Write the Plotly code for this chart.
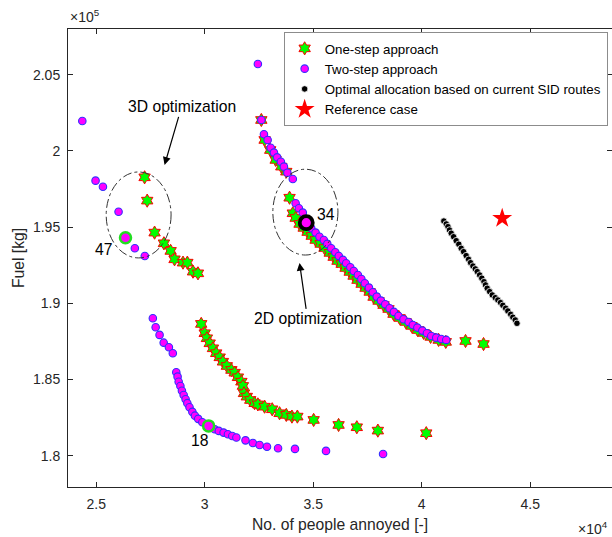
import plotly.graph_objects as go

# ---- data (x in units of 1e4 people, y in units of 1e5 kg) ----
one_step_x = [2.723, 2.735, 2.769, 2.812, 2.843, 2.861, 2.900, 2.920, 2.946, 2.969,
              3.261, 3.276, 3.302, 3.327, 3.353, 3.376, 3.391, 3.406,
              3.419, 3.437, 3.456, 3.474, 3.493, 3.511, 3.534, 3.552, 3.576, 3.594,
              3.612, 3.631, 3.649, 3.668, 3.686, 3.704, 3.723, 3.741, 3.760, 3.778,
              3.801, 3.824, 3.847, 3.870, 3.898, 3.926, 3.953, 3.981, 4.009, 4.041,
              4.078, 4.111, 4.202, 4.285,
              2.984, 3.000, 3.010, 3.023, 3.038, 3.053, 3.069, 3.084, 3.102, 3.123,
              3.138, 3.153, 3.169, 3.176, 3.181, 3.194, 3.210, 3.230, 3.245, 3.276,
              3.311, 3.345, 3.376, 3.402, 3.427, 3.502, 3.617, 3.701, 3.798, 4.021]
one_step_y = [1.9827, 1.9674, 1.9464, 1.9394, 1.9344, 1.9289, 1.9267, 1.9267, 1.9208, 1.9197,
              2.0203, 2.0072, 2.0006, 1.9941, 1.9897, 1.9864, 1.9693, 1.9591,
              1.9560, 1.9521, 1.9495, 1.9468, 1.9442, 1.9416, 1.9390, 1.9363, 1.9331, 1.9304,
              1.9278, 1.9258, 1.9232, 1.9206, 1.9180, 1.9153, 1.9127, 1.9101, 1.9075, 1.9042,
              1.9016, 1.8989, 1.8963, 1.8930, 1.8904, 1.8878, 1.8852, 1.8825, 1.8806, 1.8780,
              1.8760, 1.8747, 1.8753, 1.8733,
              1.8865, 1.8804, 1.8771, 1.8738, 1.8705, 1.8673, 1.8646, 1.8617, 1.8589, 1.8563,
              1.8545, 1.8515, 1.8486, 1.8458, 1.8410, 1.8388, 1.8366, 1.8345, 1.8337, 1.8322,
              1.8305, 1.8279, 1.8268, 1.8257, 1.8257, 1.8235, 1.8202, 1.8187, 1.8165, 1.8148]

two_step_x = [2.436, 2.497, 2.531, 2.603, 2.635, 2.678, 2.724,
              3.245, 3.261, 3.273, 3.290, 3.304, 3.319, 3.334, 3.351, 3.365, 3.381, 3.406,
              3.419, 3.434, 3.452, 3.468,
              3.491, 3.511, 3.529, 3.549, 3.565, 3.583, 3.602, 3.618, 3.637, 3.652,
              3.671, 3.687, 3.706, 3.722, 3.738, 3.757, 3.775, 3.793, 3.812, 3.832,
              3.852, 3.872, 3.893, 3.916, 3.940, 3.959, 3.980, 4.003, 4.024, 4.044,
              4.067, 4.090, 4.113,
              2.761, 2.774, 2.792, 2.811, 2.835, 2.853, 2.869, 2.875, 2.880, 2.888,
              2.895, 2.903, 2.912, 2.920, 2.930, 2.943, 2.955, 2.970, 2.989, 3.018,
              3.046, 3.065, 3.087, 3.107, 3.127, 3.146, 3.188, 3.222, 3.253, 3.287,
              3.338, 3.416, 3.559, 3.822]
two_step_y = [2.0196, 1.9805, 1.9765, 1.9601, 1.9431, 1.9361, 1.9311,
              2.0570, 2.0203, 2.0109, 2.0072, 2.0021, 1.9989, 1.9958, 1.9929, 1.9897, 1.9857, 1.9816,
              1.9657, 1.9624, 1.9595, 1.9529,
              1.9493, 1.9464, 1.9437, 1.9416, 1.9390, 1.9361, 1.9335, 1.9311, 1.9285, 1.9263,
              1.9237, 1.9212, 1.9186, 1.9160, 1.9132, 1.9103, 1.9073, 1.9044, 1.9018, 1.8994,
              1.8968, 1.8944, 1.8917, 1.8896, 1.8878, 1.8858, 1.8841, 1.8821, 1.8804, 1.8786,
              1.8775, 1.8766, 1.8760,
              1.8902, 1.8843, 1.8793, 1.8742, 1.8712, 1.8673, 1.8548, 1.8519, 1.8486, 1.8458,
              1.8427, 1.8399, 1.8371, 1.8345, 1.8318, 1.8288, 1.8263, 1.8242, 1.8220, 1.8196,
              1.8174, 1.8163, 1.8152, 1.8141, 1.8130, 1.8120, 1.8101, 1.8084, 1.8071, 1.8059,
              1.8049, 1.8045, 1.8032, 1.8012]

optimal_x = [4.102, 4.113, 4.121, 4.128, 4.136, 4.147, 4.159, 4.171, 4.182, 4.193,
             4.205, 4.216, 4.225, 4.236, 4.247, 4.256, 4.267, 4.277, 4.287, 4.294,
             4.302, 4.313, 4.325, 4.339, 4.351, 4.363, 4.374, 4.387, 4.397, 4.410,
             4.420, 4.431, 4.439]
optimal_y = [1.9540, 1.9521, 1.9503, 1.9481, 1.9460, 1.9437, 1.9411, 1.9388, 1.9361, 1.9339,
             1.9313, 1.9289, 1.9267, 1.9245, 1.9226, 1.9208, 1.9186, 1.9165, 1.9142, 1.9121,
             1.9099, 1.9077, 1.9055, 1.9037, 1.9022, 1.9005, 1.8987, 1.8968, 1.8950, 1.8928,
             1.8909, 1.8891, 1.8869]

reference_x = [4.371]
reference_y = [1.9558]

# highlighted solutions
green_ids = ["47", "18"]
green_x = [2.635, 3.018]
green_y = [1.9431, 1.8196]
black_ids = ["34"]
black_x = [3.468]
black_y = [1.9529]

x_ticks = [2.5, 3, 3.5, 4, 4.5]
x_tick_text = ["2.5", "3", "3.5", "4", "4.5"]
y_ticks = [1.8, 1.85, 1.9, 1.95, 2.0, 2.05]
y_tick_text = ["1.8", "1.85", "1.9", "1.95", "2", "2.05"]

FONT = "Liberation Sans, Arial, sans-serif"
TXT = "#262626"

fig = go.Figure()
fig.add_trace(go.Scatter(
    x=one_step_x, y=one_step_y, mode="markers", name="One-step approach",
    marker=dict(symbol="hexagram", size=10, color="#00ff00",
                line=dict(color="#ff0000", width=1))))
fig.add_trace(go.Scatter(
    x=two_step_x, y=two_step_y, mode="markers", name="Two-step approach",
    marker=dict(symbol="circle", size=7.5, color="#ff00ff",
                line=dict(color="#3030ff", width=1.1))))
fig.add_trace(go.Scatter(
    x=optimal_x, y=optimal_y, mode="markers",
    name="Optimal allocation based on current SID routes",
    marker=dict(symbol="circle", size=6.5, color="#000000",
                line=dict(color="#ffffff", width=0.8))))
fig.add_trace(go.Scatter(
    x=reference_x, y=reference_y, mode="markers", name="Reference case",
    marker=dict(symbol="star", size=15, color="#ff0000",
                line=dict(color="#ff0000", width=0))))
fig.add_trace(go.Scatter(
    x=green_x, y=green_y, mode="markers", showlegend=False, hoverinfo="skip",
    marker=dict(symbol="circle", size=11, color="#ff00ff",
                line=dict(color="#22dd22", width=2.5))))
fig.add_trace(go.Scatter(
    x=black_x, y=black_y, mode="markers", showlegend=False, hoverinfo="skip",
    marker=dict(symbol="circle", size=13, color="#ff00ff",
                line=dict(color="#000000", width=3.8))))

# ellipses around the optimization groups
fig.add_shape(type="circle", xref="x", yref="y", x0=2.546, x1=2.845, y0=1.9298, y1=1.9862,
              line=dict(color="#333333", width=1, dash="dashdot"))
fig.add_shape(type="circle", xref="x", yref="y", x0=3.314, x1=3.614, y0=1.9317, y1=1.9880,
              line=dict(color="#333333", width=1, dash="dashdot"))

ann_font = dict(family=FONT, size=15.7, color="#000000")
fig.add_annotation(x=2.815, y=1.9908, xref="x", yref="y", text="3D optimization",
                   ax=17, ay=-58, axref="pixel", ayref="pixel", showarrow=True,
                   arrowhead=2, arrowsize=1.3, arrowwidth=1.2, arrowcolor="#000000",
                   font=ann_font)
fig.add_annotation(x=3.437, y=1.9265, xref="x", yref="y", text="2D optimization",
                   ax=8, ay=56, axref="pixel", ayref="pixel", showarrow=True,
                   arrowhead=2, arrowsize=1.3, arrowwidth=1.2, arrowcolor="#000000",
                   font=ann_font)
label_offsets = {"47": (-22, 12), "18": (-9, 15), "34": (20, -8)}
for ids, xs, ys in ((green_ids, green_x, green_y), (black_ids, black_x, black_y)):
    for i, xv, yv in zip(ids, xs, ys):
        dx, dy = label_offsets[i]
        fig.add_annotation(x=xv, y=yv, xref="x", yref="y", text=i, showarrow=False,
                           xshift=dx, yshift=-dy, font=ann_font)

# axis exponent labels
fig.add_annotation(x=0.0, y=1.0, xref="paper", yref="paper", xanchor="left", yanchor="bottom",
                   text="\u00d710<sup>5</sup>", showarrow=False, yshift=2,
                   font=dict(family=FONT, size=14, color=TXT))
fig.add_annotation(x=1.0, y=0.0, xref="paper", yref="paper", xanchor="right", yanchor="top",
                   text="\u00d710<sup>4</sup>", showarrow=False, yshift=-30, xshift=-2,
                   font=dict(family=FONT, size=14, color=TXT))

axis_common = dict(showgrid=False, zeroline=False, showline=True, linecolor=TXT, linewidth=1,
                   mirror="ticks", ticks="inside", ticklen=5, tickcolor=TXT, tickwidth=1,
                   tickfont=dict(family=FONT, size=14, color=TXT))
fig.update_xaxes(range=[2.37, 4.877], tickvals=x_ticks, ticktext=x_tick_text,
                 title=dict(text="No. of people annoyed [-]", standoff=8,
                            font=dict(family=FONT, size=15.7, color=TXT)),
                 ticklabelstandoff=4, **axis_common)
fig.update_yaxes(range=[1.7795, 2.08], tickvals=y_ticks, ticktext=y_tick_text,
                 title=dict(text="Fuel [kg]", standoff=4,
                            font=dict(family=FONT, size=15.7, color=TXT)),
                 ticklabelstandoff=4, **axis_common)

fig.update_layout(
    width=612, height=537,
    margin=dict(l=68, r=0, t=29, b=50, autoexpand=False),
    paper_bgcolor="white", plot_bgcolor="white",
    font=dict(family=FONT, color=TXT),
    showlegend=True,
    legend=dict(x=0.992, y=0.993, xanchor="right", yanchor="top",
                bgcolor="white", bordercolor="#8c8c8c", borderwidth=1,
                font=dict(family=FONT, size=13.3, color="#000000"),
                itemsizing="trace"),
)

fig.write_html("out.html", config={"displayModeBar": False},
               post_script="document.body.style.margin='0';document.body.style.padding='0';")
